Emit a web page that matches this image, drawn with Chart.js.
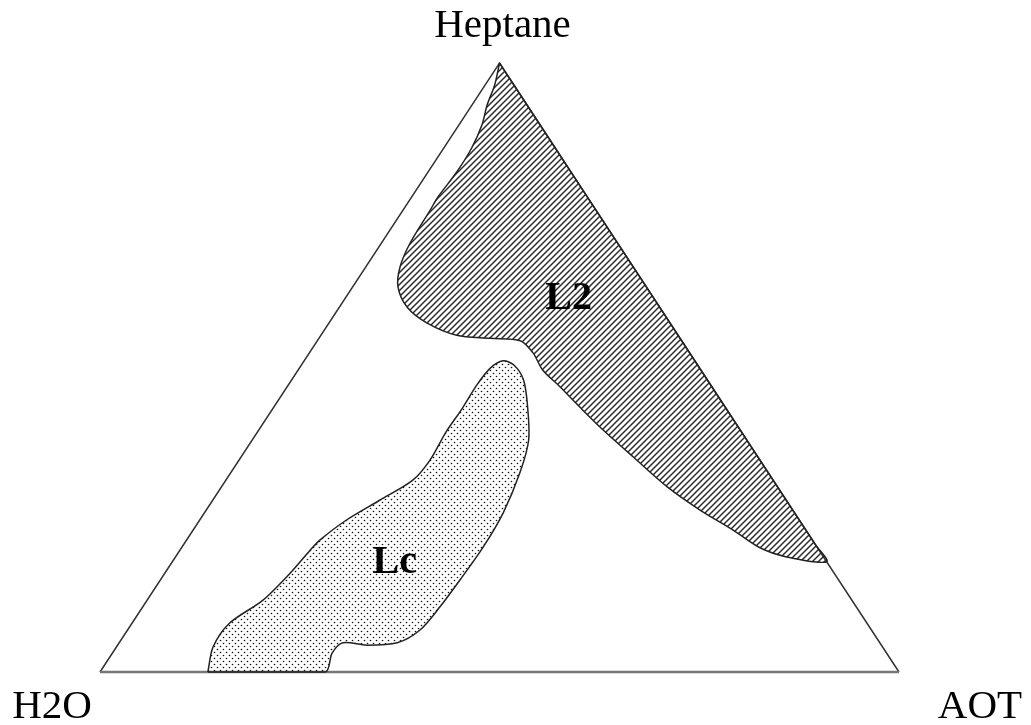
<!DOCTYPE html>
<html>
<head>
<meta charset="utf-8">
<script src="https://cdn.jsdelivr.net/npm/chart.js@4"></script>
<style>
  html, body { margin: 0; padding: 0; background: #fff; }
  canvas { display: block; }
</style>
</head>
<body>
<canvas id="phase" width="1031" height="725"></canvas>
<script>
// Heptane / AOT / water ternary phase diagram
// compositions in weight %, water = 100 - heptane - aot

const corners = ["H2O", "AOT", "Heptane"];
const regionNames = ["L2", "Lc"];

// L2 region boundary (reversed micelles), from the heptane corner round to the AOT edge
const l2Heptane = [100, 96.4, 93.1, 89.8, 86.0, 82.1, 78.0, 75.9, 70.4, 66.5, 63.2, 59.9,
  57.3, 55.3, 54.8, 54.4, 52.4, 49.6, 46.8, 43.5, 40.2, 35.3, 30.4, 26.6, 23.3, 20.4,
  18.9, 18.1, 21.0, 50.0, 80.0, 97.0, 100];
const l2Aot = [0, 1.2, 1.9, 2.9, 3.5, 3.6, 3.3, 3.4, 3.6, 4.3, 5.7, 8.5,
  12.3, 17.0, 21.4, 25.4, 28.0, 30.6, 34.2, 38.3, 42.5, 49.1, 55.8, 61.8, 67.6, 72.4,
  76.5, 81.9, 79.0, 50.0, 20.0, 3.0, 0];

// Lc region boundary (lamellar liquid crystal), starting on the water/AOT edge
const lcHeptane = [0, 4.1, 8.0, 11.8, 16.3, 20.0, 21.7, 25.0, 28.2, 31.5, 34.8, 39.4,
  43.3, 47.1, 49.9, 51.1, 50.4, 48.0, 43.8, 38.1, 32.7, 26.1, 20.5, 15.1, 10.7, 6.9,
  4.8, 4.4, 4.8, 3.1, 0, 0, 0];
const lcAot = [13.5, 12.1, 12.2, 14.5, 15.7, 16.3, 16.7, 18.4, 20.9, 23.4, 23.9, 23.6,
  23.7, 23.6, 23.9, 24.9, 26.6, 29.0, 31.6, 34.6, 36.2, 37.4, 37.7, 37.5, 37.2, 36.6,
  34.8, 31.2, 28.0, 27.5, 28.2, 20.0, 13.5];

// label anchors inside each region (heptane %, aot %)
const regionLabelHeptane = [61.9, 18.6];
const regionLabelAot = [27.7, 27.6];

// ternary -> plot plane: water corner at (0,0), AOT at (1,0), heptane at (0.5,1)
function toXY(hep, aot) {
  return hep.map((h, i) => ({ x: (aot[i] + h / 2) / 100, y: h / 100 }));
}

function hatchPattern() {
  const c = document.createElement("canvas");
  c.width = 6; c.height = 6;
  const g = c.getContext("2d");
  g.strokeStyle = "#2a2a2a";
  g.lineWidth = 1.45;
  g.beginPath();
  g.moveTo(0, 6); g.lineTo(6, 0);
  g.moveTo(-3, 3); g.lineTo(3, -3);
  g.moveTo(3, 9); g.lineTo(9, 3);
  g.stroke();
  return g.createPattern(c, "repeat");
}

function dotPattern() {
  const c = document.createElement("canvas");
  c.width = 6; c.height = 6;
  const g = c.getContext("2d");
  g.fillStyle = "#111";
  [[1.5, 1.5], [4.5, 4.5]].forEach(p => {
    g.beginPath();
    g.arc(p[0], p[1], 0.8, 0, Math.PI * 2);
    g.fill();
  });
  return g.createPattern(c, "repeat");
}

const ctx = document.getElementById("phase").getContext("2d");

// corner names and region names
const labelPlugin = {
  id: "ternaryLabels",
  afterDraw(chart) {
    const g = chart.ctx;
    const xs = chart.scales.x, ys = chart.scales.y;
    g.save();
    g.fillStyle = "#000";
    g.textAlign = "center";
    g.textBaseline = "alphabetic";
    g.font = '41px "Liberation Serif", "Times New Roman", serif';
    g.fillText(corners[0], xs.getPixelForValue(0) - 48, ys.getPixelForValue(0) + 46);
    g.fillText(corners[1], xs.getPixelForValue(1) + 81, ys.getPixelForValue(0) + 46);
    g.fillText(corners[2], xs.getPixelForValue(0.5) + 3, ys.getPixelForValue(1) - 26);

    g.font = 'bold 40px "Liberation Serif", "Times New Roman", serif';
    const pts = toXY(regionLabelHeptane, regionLabelAot);
    regionNames.forEach((name, i) => {
      g.fillText(name, xs.getPixelForValue(pts[i].x), ys.getPixelForValue(pts[i].y) + 14);
    });
    g.restore();
  }
};

new Chart(ctx, {
  type: "scatter",
  data: {
    datasets: [
      {
        label: "L2",
        data: toXY(l2Heptane, l2Aot),
        showLine: true,
        fill: "shape",
        backgroundColor: hatchPattern(),
        borderColor: "#222",
        borderWidth: 1.5,
        tension: 0.3,
        pointRadius: 0,
        clip: false
      },
      {
        label: "Lc",
        data: toXY(lcHeptane, lcAot),
        showLine: true,
        fill: "shape",
        backgroundColor: dotPattern(),
        borderColor: "#222",
        borderWidth: 1.5,
        tension: 0.3,
        pointRadius: 0,
        clip: false
      },
      {
        label: "triangle",
        data: [{ x: 0, y: 0 }, { x: 0.5, y: 1 }, { x: 1, y: 0 }, { x: 0, y: 0 }],
        showLine: true,
        fill: false,
        borderColor: "#333",
        borderWidth: 1.5,
        segment: {
          borderColor: s => s.p0DataIndex === 2 ? "#777" : undefined,
          borderWidth: s => s.p0DataIndex === 2 ? 2.5 : undefined
        },
        tension: 0,
        pointRadius: 0,
        clip: false
      }
    ]
  },
  options: {
    responsive: false,
    devicePixelRatio: 1,
    animation: false,
    layout: { padding: { left: 100, right: 132, top: 63, bottom: 53 } },
    scales: {
      x: { type: "linear", min: 0, max: 1, display: false },
      y: { type: "linear", min: 0, max: 1, display: false }
    },
    plugins: {
      legend: { display: false },
      tooltip: { enabled: false }
    }
  },
  plugins: [labelPlugin]
});
</script>
</body>
</html>
